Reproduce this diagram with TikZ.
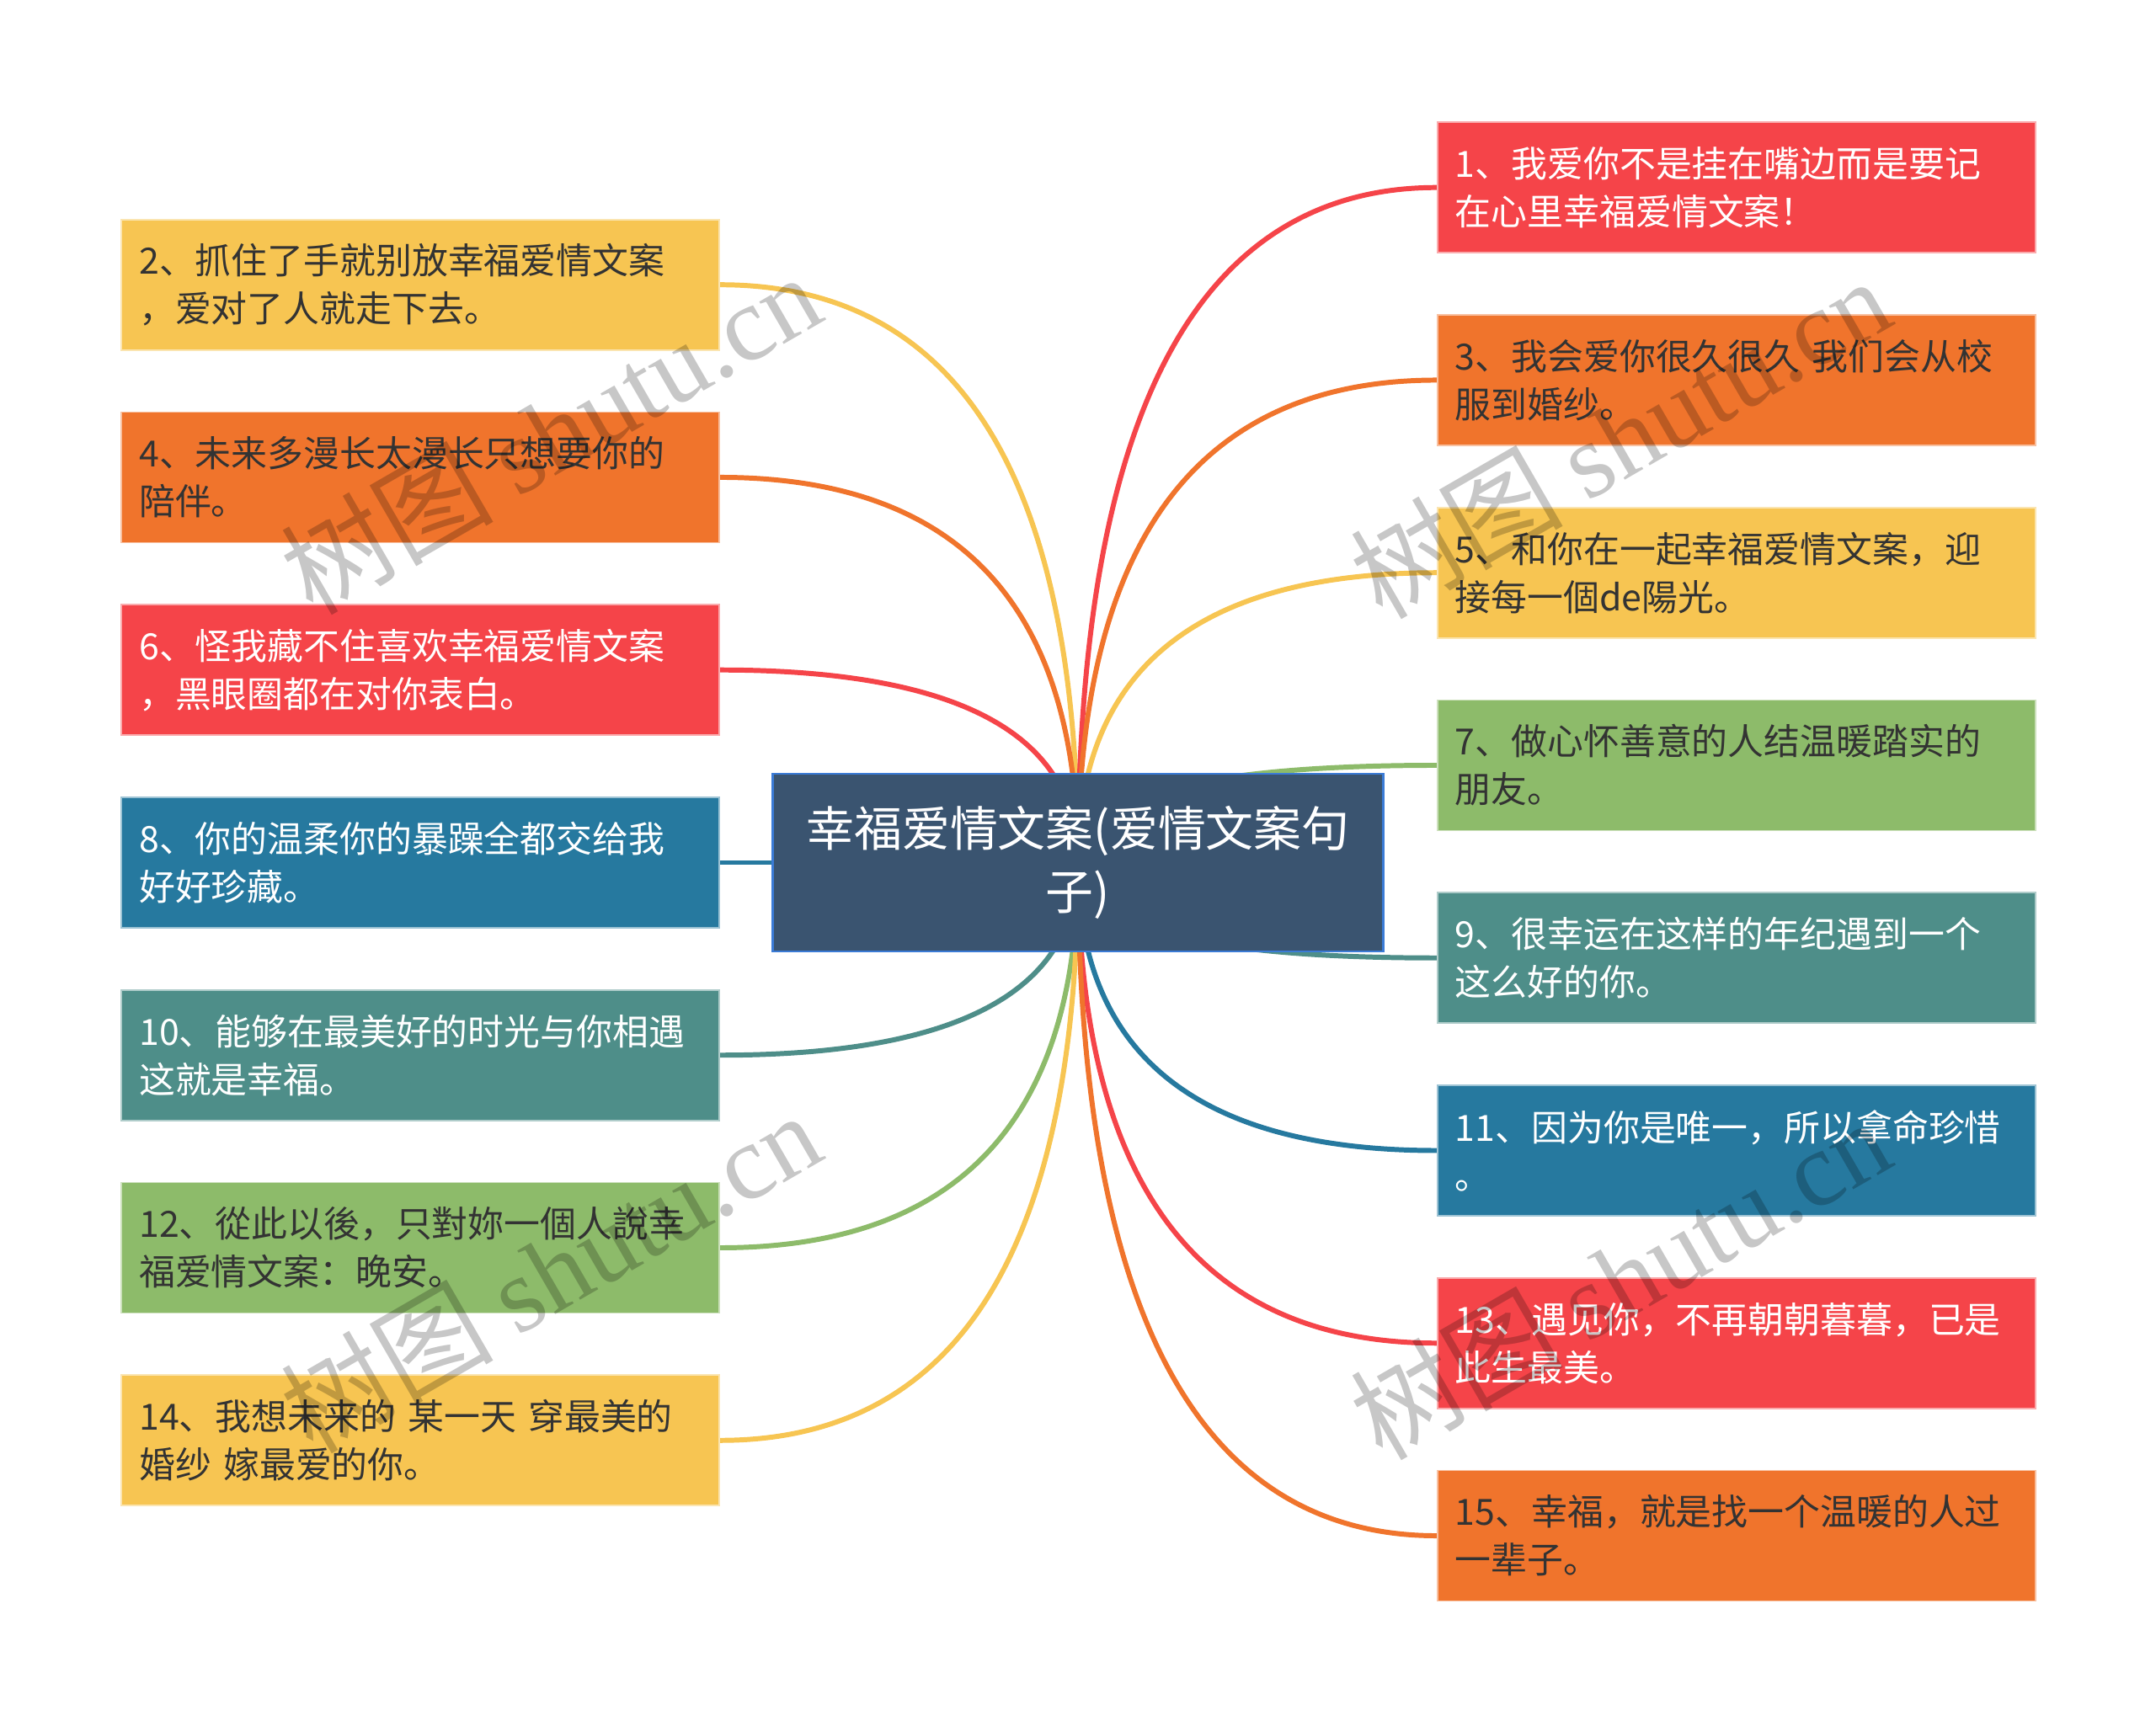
\documentclass[tikz,border=0pt]{standalone}
\usepackage{fontspec}
\setmainfont{Noto Sans CJK SC}
\newfontfamily\wmlatin{Liberation Serif}
\usetikzlibrary{positioning, calc, backgrounds}

\definecolor{mapyellow}{HTML}{F7C552}
\definecolor{maporange}{HTML}{F0742C}
\definecolor{mapred}{HTML}{F54449}
\definecolor{mapblue}{HTML}{26799F}
\definecolor{mapteal}{HTML}{4E8E89}
\definecolor{mapgreen}{HTML}{8DBB6A}
\definecolor{rootfill}{HTML}{3A5470}
\definecolor{rootline}{HTML}{3B7BD6}
\definecolor{darktext}{HTML}{333333}

\begin{document}
\begin{tikzpicture}[
    node distance=0.72cm,
    topic/.style={rectangle, fill=rootfill, draw=rootline, line width=0.8pt, minimum width=7.25cm, minimum height=2.11cm, text width=6.8cm, align=center, text=white, font=\fontsize{16.2}{21.3}\selectfont},
    idea/.style={rectangle, fill=#1, draw=#1!45!white, line width=0.5pt, minimum width=7.1cm, minimum height=1.55cm, text width=6.68cm, inner xsep=0.21cm, inner ysep=0pt, align=left, text=darktext, font=\fontsize{12.2}{16.2}\selectfont},
    lightidea/.style={idea=#1, text=white},
    link/.style={draw=#1, line width=1.7pt},
    branch/.style={to path={.. controls ($(\tikztostart)!2/3!(\tikztostart|-\tikztotarget)$) and ($(\tikztotarget)!2/3!(\tikztostart|-\tikztotarget)$) .. (\tikztotarget)}},
    wmark/.style={rotate=30, text opacity=0.22, text=black, font=\fontsize{36}{36}\selectfont}
]
    \useasboundingbox (0,0) rectangle (25.6,20.49);

    % central topic
    \node[topic] (root) at (12.8,10.245) {幸福爱情文案(爱情文案句\\子)};

    % left column
    \node[lightidea=mapblue, left=0.61cm of root] (b8) {8、你的温柔你的暴躁全都交给我\\好好珍藏。};
    \node[lightidea=mapred, above=of b8] (b6) {6、怪我藏不住喜欢幸福爱情文案\\，黑眼圈都在对你表白。};
    \node[idea=maporange, above=of b6] (b4) {4、未来多漫长太漫长只想要你的\\陪伴。};
    \node[idea=mapyellow, above=of b4] (b2) {2、抓住了手就别放幸福爱情文案\\，爱对了人就走下去。};
    \node[lightidea=mapteal, below=of b8] (b10) {10、能够在最美好的时光与你相遇\\这就是幸福。};
    \node[idea=mapgreen, below=of b10] (b12) {12、從此以後，只對妳一個人說幸\\福爱情文案：晚安。};
    \node[idea=mapyellow, below=of b12] (b14) {14、我想未来的 某一天 穿最美的\\婚纱 嫁最爱的你。};

    % right column
    \node[idea=mapgreen, anchor=west] (b7) at (17.06,11.40) {7、做心怀善意的人结温暖踏实的\\朋友。};
    \node[idea=mapyellow, above=of b7] (b5) {5、和你在一起幸福爱情文案，迎\\接每一個de陽光。};
    \node[idea=maporange, above=of b5] (b3) {3、我会爱你很久很久 我们会从校\\服到婚纱。};
    \node[lightidea=mapred, above=of b3] (b1) {1、我爱你不是挂在嘴边而是要记\\在心里幸福爱情文案！};
    \node[lightidea=mapteal, below=of b7] (b9) {9、很幸运在这样的年纪遇到一个\\这么好的你。};
    \node[lightidea=mapblue, below=of b9] (b11) {11、因为你是唯一，所以拿命珍惜\\。};
    \node[lightidea=mapred, below=of b11] (b13) {13、遇见你，不再朝朝暮暮，已是\\此生最美。};
    \node[idea=maporange, below=of b13] (b15) {15、幸福，就是找一个温暖的人过\\一辈子。};

    % branches, under the boxes
    \begin{scope}[on background layer]
        \path (root.center) edge[branch, link=mapyellow] (b2.east)
                            edge[branch, link=maporange] (b4.east)
                            edge[branch, link=mapred] (b6.east)
                            edge[link=mapblue] (b8.east)
                            edge[branch, link=mapteal] (b10.east)
                            edge[branch, link=mapgreen] (b12.east)
                            edge[branch, link=mapyellow] (b14.east);
        \path (root.center) edge[branch, link=mapred] (b1.west)
                            edge[branch, link=maporange] (b3.west)
                            edge[branch, link=mapyellow] (b5.west)
                            edge[branch, link=mapgreen] (b7.west)
                            edge[branch, link=mapteal] (b9.west)
                            edge[branch, link=mapblue] (b11.west)
                            edge[branch, link=mapred] (b13.west)
                            edge[branch, link=maporange] (b15.west);
    \end{scope}

    % watermark
    \node[wmark] (wm1) at (6.53,15.35) {树图 {\wmlatin shutu.cn}};
    \node[wmark] (wm2) at (19.23,15.30) {树图 {\wmlatin shutu.cn}};
    \node[wmark] (wm3) at (6.53,5.39) {树图 {\wmlatin shutu.cn}};
    \node[wmark] (wm4) at (19.23,5.31) {树图 {\wmlatin shutu.cn}};

\end{tikzpicture}
\end{document}
